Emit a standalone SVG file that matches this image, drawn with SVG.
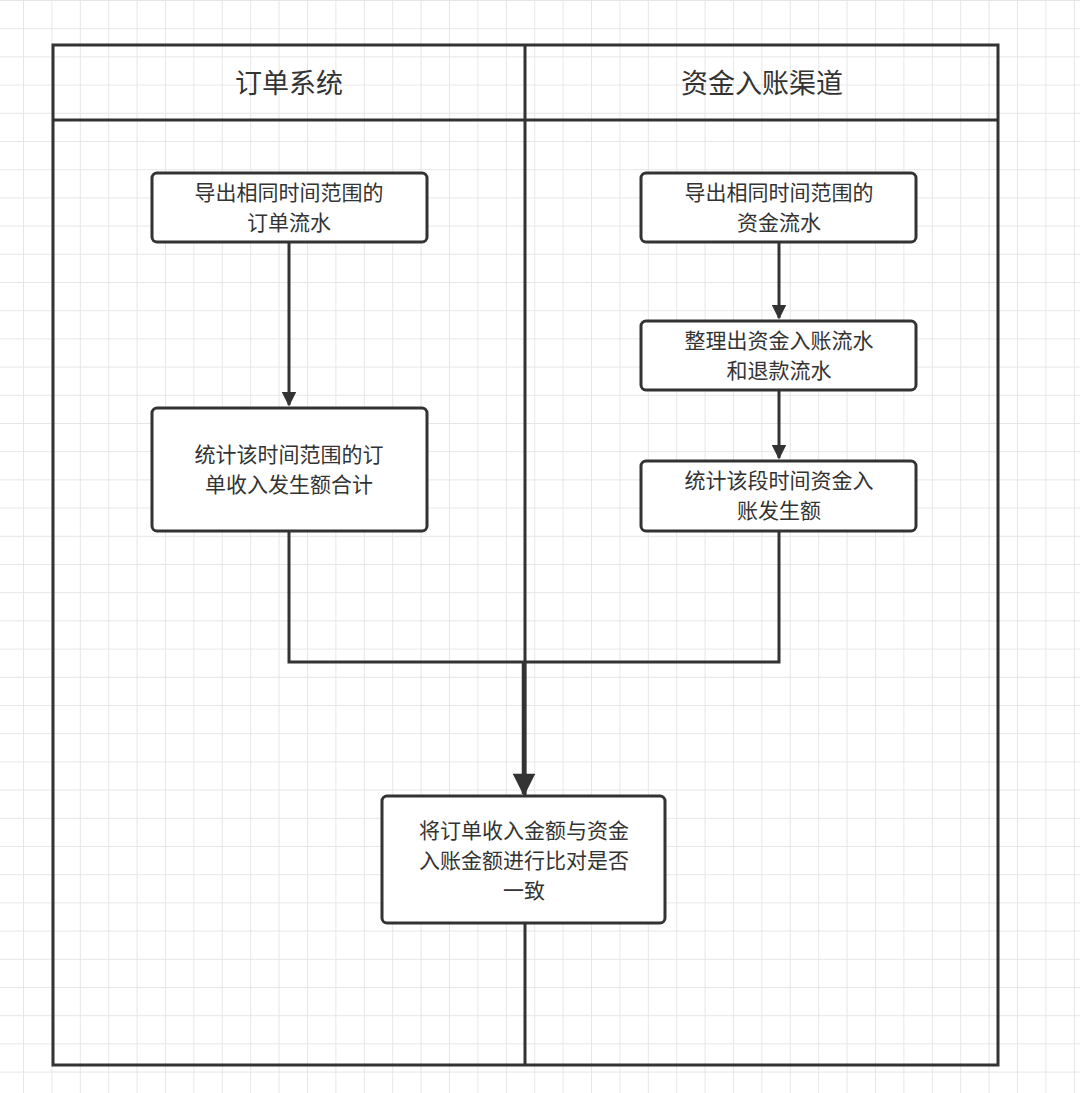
<svg xmlns="http://www.w3.org/2000/svg" width="1080" height="1093" viewBox="0 0 1080 1093">
<defs>
<pattern id="grid" x="23" y="0" width="28.4" height="28.2" patternUnits="userSpaceOnUse">
<path d="M0 0V28.2M0 0H28.4" fill="none" stroke="#e6e6e6" stroke-width="2"/>
</pattern>
<marker id="ah" viewBox="0 0 10 10" refX="9" refY="5" markerWidth="5" markerHeight="5" orient="auto" markerUnits="strokeWidth"><path d="M0 0L10 5L0 10z" fill="#333"/></marker>
<marker id="ah2" viewBox="0 0 10 10" refX="9" refY="5" markerWidth="5.5" markerHeight="5" orient="auto" markerUnits="strokeWidth"><path d="M0 0L10 5L0 10z" fill="#333"/></marker>
</defs>
<style>
.box{fill:#fff;stroke:#333;stroke-width:3}
.t{font-family:"Noto Sans CJK SC",sans-serif;font-size:21px;fill:#333;text-anchor:middle}
.h{font-family:"Noto Sans CJK SC",sans-serif;font-size:27px;fill:#333;text-anchor:middle}
.c{fill:none;stroke:#333;stroke-width:3}
</style>
<rect width="1080" height="1093" fill="#fff"/>
<rect width="1080" height="1093" fill="url(#grid)"/>
<g id="pool">
<rect x="53" y="45" width="945" height="1020" fill="none" stroke="#333" stroke-width="3"/>
<line x1="53" y1="120" x2="998" y2="120" stroke="#333" stroke-width="3"/>
<line x1="525" y1="45" x2="525" y2="1065" stroke="#333" stroke-width="3"/>
<text class="h" x="289" y="93">订单系统</text>
<text class="h" x="762" y="93">资金入账渠道</text>
</g>
<g id="connectors">
<line class="c" x1="289" y1="242" x2="289" y2="405" marker-end="url(#ah)"/>
<line class="c" x1="779" y1="242" x2="779" y2="318" marker-end="url(#ah)"/>
<line class="c" x1="779" y1="390" x2="779" y2="458" marker-end="url(#ah)"/>
<polyline class="c" points="289,531 289,662 779,662 779,531"/>
<line x1="524" y1="662" x2="524" y2="794" stroke="#333" stroke-width="4.5" marker-end="url(#ah2)"/>
</g>
<g id="n1"><rect class="box" x="152" y="173" width="275" height="69" rx="5"/><text class="t" x="289" y="200">导出相同时间范围的</text><text class="t" x="289" y="230">订单流水</text></g>
<g id="n2"><rect class="box" x="152" y="408" width="275" height="123" rx="5"/><text class="t" x="289" y="462">统计该时间范围的订</text><text class="t" x="289" y="492">单收入发生额合计</text></g>
<g id="n3"><rect class="box" x="641" y="173" width="275" height="69" rx="5"/><text class="t" x="779" y="200">导出相同时间范围的</text><text class="t" x="779" y="230">资金流水</text></g>
<g id="n4"><rect class="box" x="641" y="321" width="275" height="69" rx="5"/><text class="t" x="779" y="348">整理出资金入账流水</text><text class="t" x="779" y="378">和退款流水</text></g>
<g id="n5"><rect class="box" x="641" y="461" width="275" height="70" rx="5"/><text class="t" x="779" y="488">统计该段时间资金入</text><text class="t" x="779" y="518">账发生额</text></g>
<g id="n6"><rect class="box" x="382" y="796" width="283" height="127" rx="5"/><text class="t" x="524" y="838">将订单收入金额与资金</text><text class="t" x="524" y="868">入账金额进行比对是否</text><text class="t" x="524" y="898">一致</text></g>
</svg>
